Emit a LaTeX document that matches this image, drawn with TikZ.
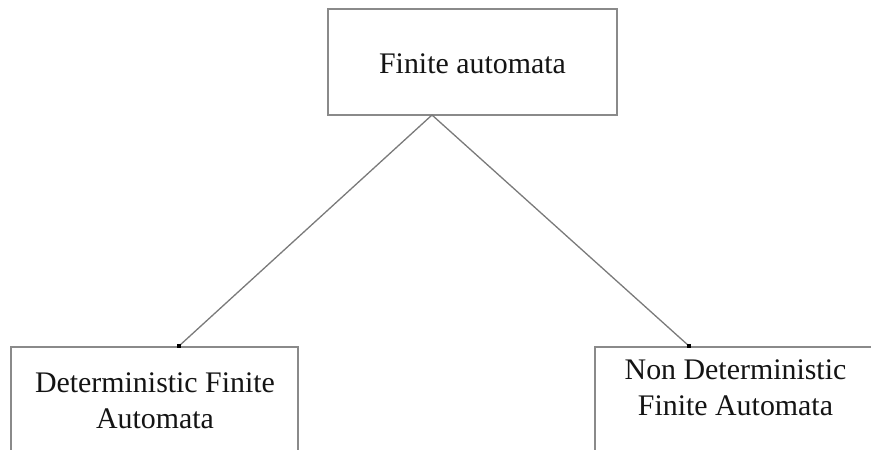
\documentclass[tikz,border=0pt]{standalone}
\usepackage{fontspec}
\setmainfont{Liberation Serif}
\begin{document}
\begin{tikzpicture}[x=1bp,y=-1bp,
  box/.style={draw=boxgray, line width=1.6bp, inner sep=0pt, fill=white},
  label/.style={text=black!92, inner sep=0pt, align=center,
                font=\fontsize{30}{36.5}\selectfont},
  link/.style={draw=linkgray, line width=1.3bp},
  tip/.style={fill=black, minimum size=4bp, inner sep=0pt, shape=rectangle}]
\definecolor{boxgray}{HTML}{8A8A8A}
\definecolor{linkgray}{HTML}{7A7A7A}
\useasboundingbox (0,0) rectangle (871,450);
\clip (0,0) rectangle (871,450);

% root box
\node[box, minimum width=289bp, minimum height=106bp] (root) at (472.5,62) {};
\node[label, anchor=base] (rootText) at (472.5,74) {Finite automata};

% left child: deterministic automata (box runs past the lower edge)
\node[box, minimum width=287bp, minimum height=140bp, anchor=north west] (dfa) at (10,346) {};
\node[label, anchor=north] (dfaText) at (155,372.5) {Deterministic Finite\\Automata};

% right child: non-deterministic automata
\node[box, minimum width=300bp, minimum height=140bp, anchor=north west] (nfa) at (594,346) {};
\node[label, anchor=north] (nfaText) at (735.5,359.5) {Non Deterministic\\Finite Automata};

% connector ends
\coordinate (apex) at (432,115);
\coordinate (dfaTop) at (179,346);
\coordinate (nfaTop) at (689,346);

\draw[link] (apex) -- (dfaTop);
\draw[link] (apex) -- (nfaTop);
\node[tip] (dfaDot) at (dfaTop) {};
\node[tip] (nfaDot) at (nfaTop) {};
\end{tikzpicture}
\end{document}
